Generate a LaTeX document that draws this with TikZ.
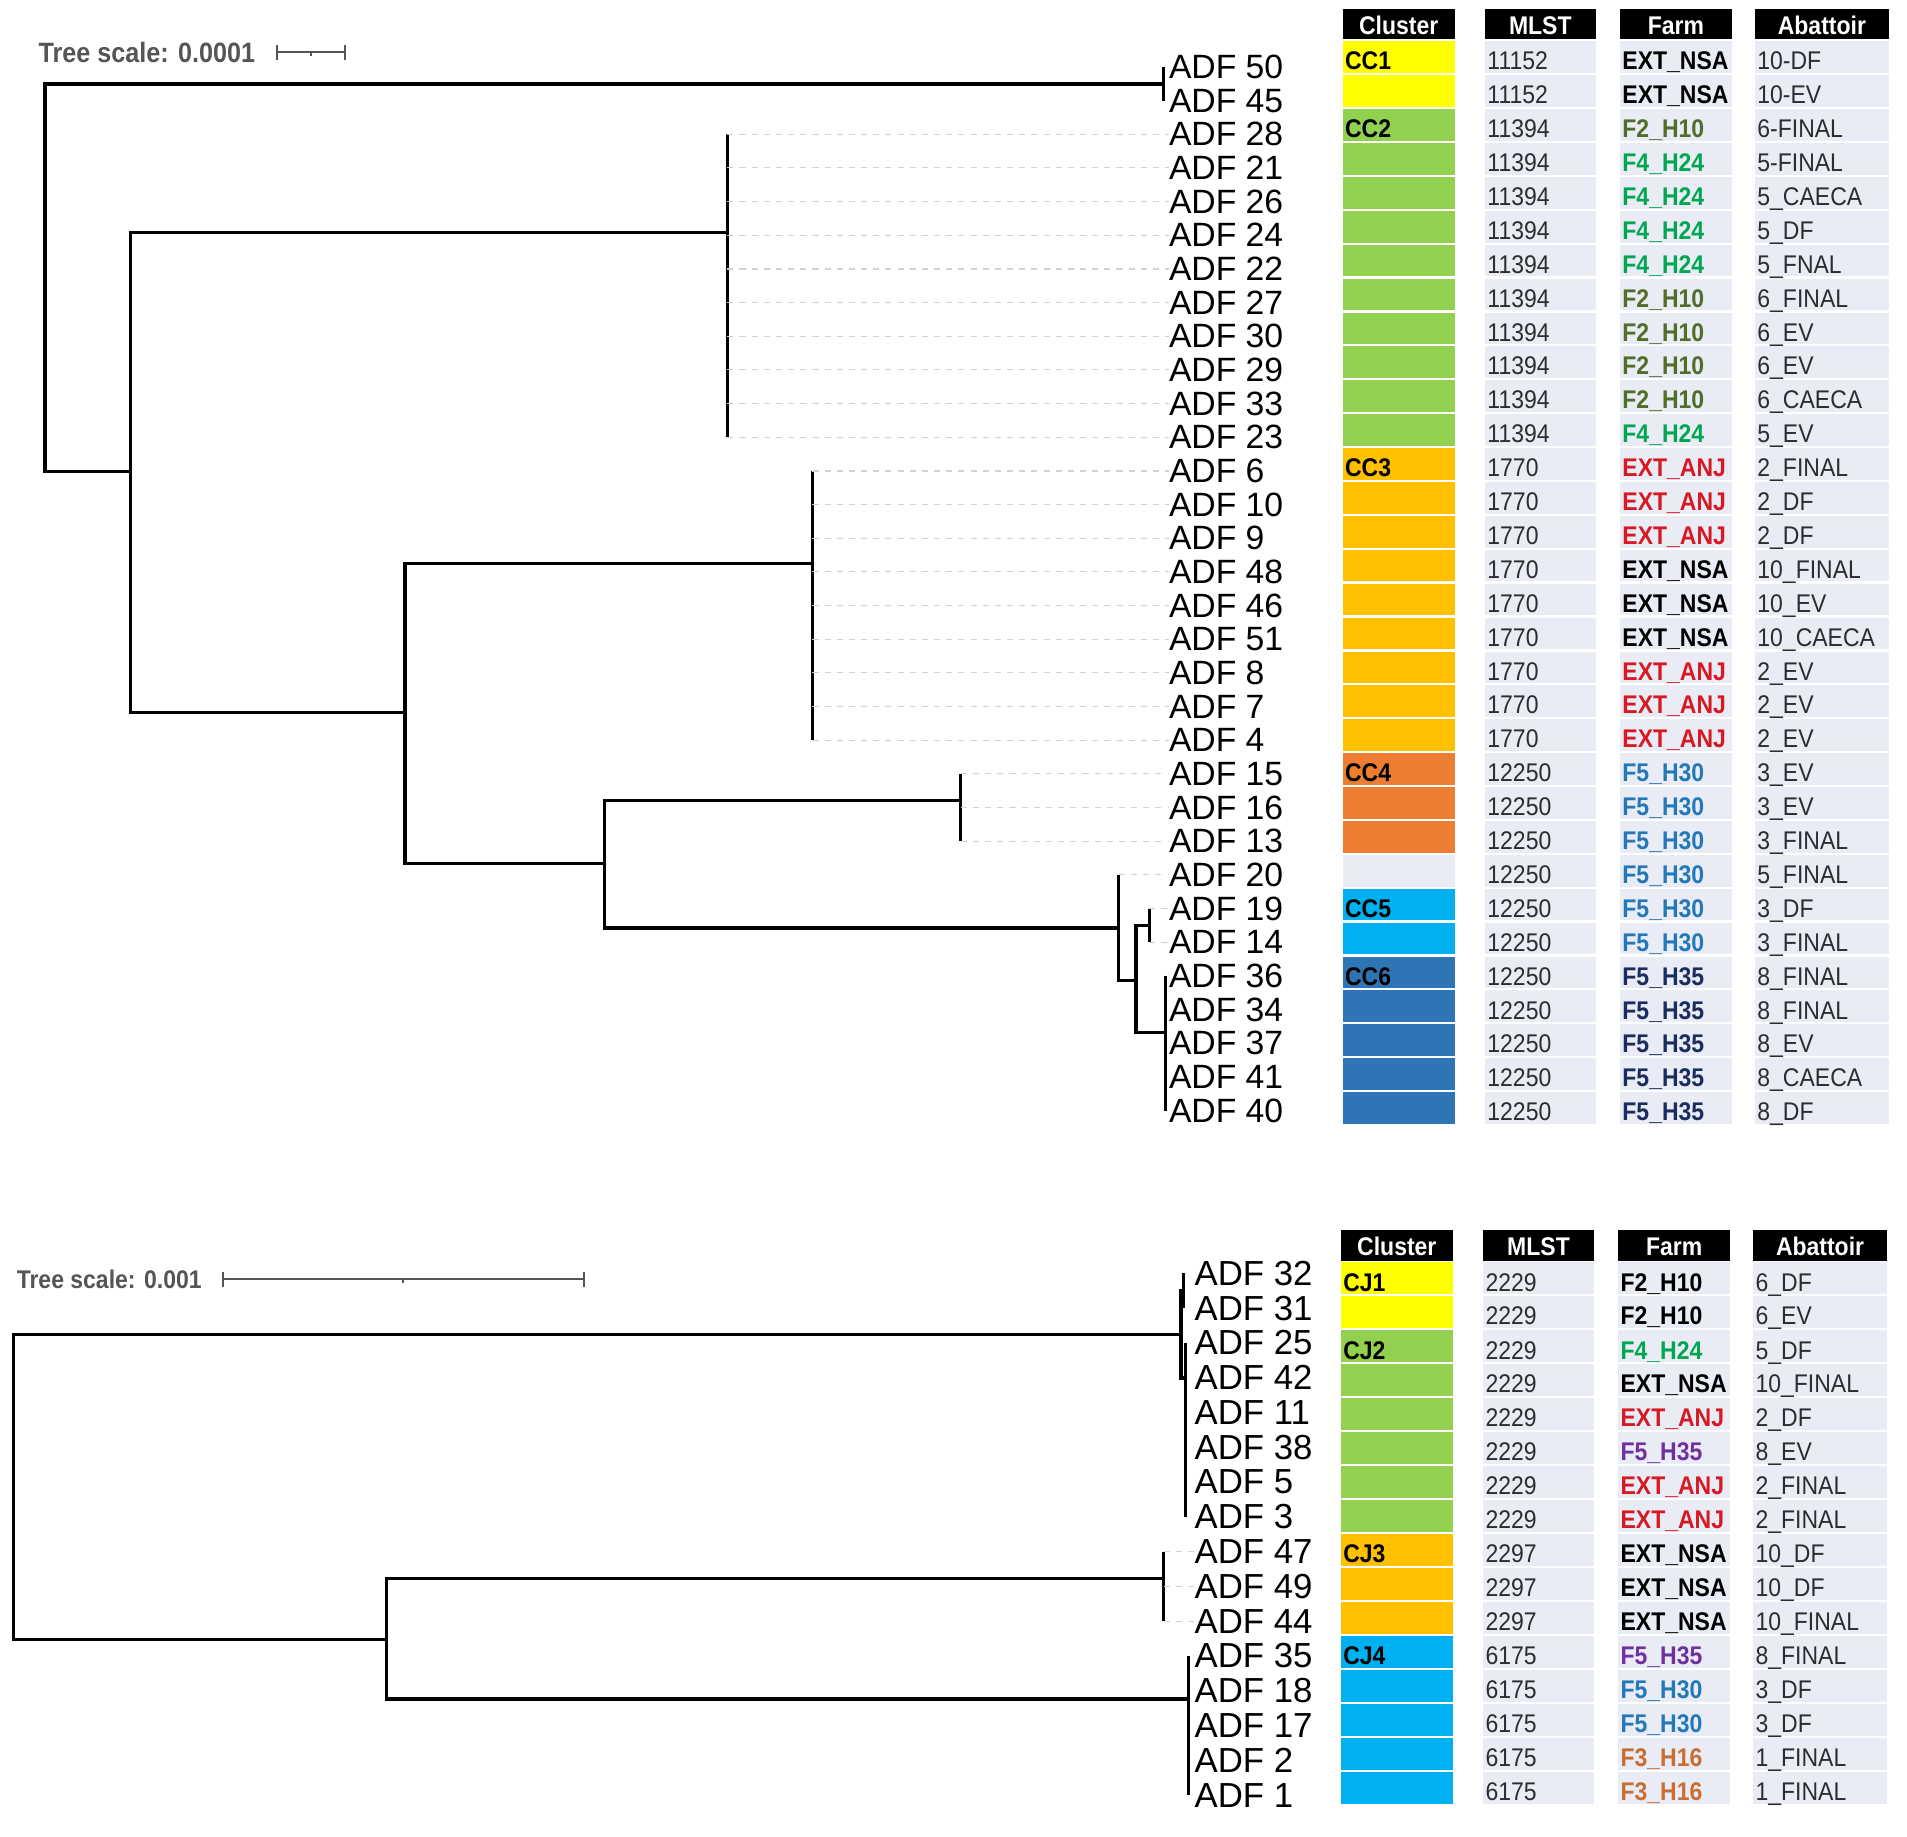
\documentclass[tikz,border=0pt]{standalone}
\usepackage{fontspec}
\setmainfont{Liberation Sans}
\newfontfamily\narrowfont[FakeStretch=0.9]{Liberation Sans}
\usepackage{tikz}
\usetikzlibrary{positioning}
\definecolor{ccyellow}{RGB}{255,255,0}
\definecolor{ccgreen}{RGB}{146,208,80}
\definecolor{ccorange}{RGB}{255,192,0}
\definecolor{ccred}{RGB}{237,125,49}
\definecolor{cclight}{RGB}{0,176,240}
\definecolor{ccblue}{RGB}{46,117,182}
\definecolor{cellbg}{RGB}{233,235,245}
\definecolor{celltext}{RGB}{45,45,45}
\definecolor{farmolive}{RGB}{80,110,40}
\definecolor{farmgreen}{RGB}{0,166,80}
\definecolor{farmred}{RGB}{215,25,35}
\definecolor{farmblue}{RGB}{35,120,185}
\definecolor{farmnavy}{RGB}{25,45,95}
\definecolor{farmpurple}{RGB}{112,48,160}
\definecolor{farmbrown}{RGB}{200,110,50}
\definecolor{scalegray}{RGB}{85,85,85}
\tikzset{%
  branch/.style={line width=2.6pt, black},% tree branches
  leader/.style={gray!35, line width=1pt, dash pattern=on 5pt off 5pt},% guide from branch to label
  leaf/.style={anchor=west, inner sep=0pt, font=\fontsize{27.7}{28}\selectfont},
  leafb/.style={leaf, font=\fontsize{28.6}{29}\selectfont},
  scalebar/.style={scalegray, line width=1.6pt},
  scaletext/.style={inner sep=0pt, text=scalegray, font=\narrowfont\bfseries\fontsize{23}{23}\selectfont},
  head/.style={fill=black, text=white, inner sep=0pt, minimum height=25pt, text height=17pt, text depth=0pt,
    font=\narrowfont\bfseries\fontsize{21}{21}\selectfont},% column titles
  cell/.style={inner sep=2pt, minimum height=26pt, align=left, text height=21pt, text depth=0pt,
    text=celltext, font=\narrowfont\fontsize{21}{21}\selectfont}% table cells
}
% one row of the table: name, y, cluster colour, cluster, MLST, farm colour, farm, abattoir
\newcommand*{\tabrow}[8]{%
  \node[cell, fill=#3, text width=88pt, text=black] (cl#1) at (1150,#2) {\bfseries #4};
  \node[cell, fill=cellbg, text width=87pt] (ml#1) at (1266.5,#2) {#5};
  \node[cell, fill=cellbg, text width=88pt, text=#6] (fa#1) at (1378,#2) {\bfseries #7};
  \node[cell, fill=cellbg, text width=106pt] (ab#1) at (1498,#2) {#8};
}

\begin{document}
\begin{tikzpicture}[x=1pt, y=-1pt]
\useasboundingbox (0,0) rectangle (1568,1510);

%%% upper tree
\coordinate (sa) at (228,43);
\coordinate (sm) at (256,43);
\coordinate (sb) at (284,43);
\node[scaletext, left=18pt of sa] (scaletop) {Tree scale: 0.0001};
\draw[scalebar] (sa) -- (sb);
\draw[scalebar] (sa) ++(0,-6) -- ++(0,12);
\draw[scalebar] (sb) ++(0,-6) -- ++(0,12);
\draw[scalebar] (sm) -- ++(0,3);

\node[leaf] (l50) at (961, 55)    {ADF 50};
\node[leaf] (l45) at (961, 82.7)  {ADF 45};
\node[leaf] (l28) at (961, 110.4) {ADF 28};
\node[leaf] (l21) at (961, 138)   {ADF 21};
\node[leaf] (l26) at (961, 165.7) {ADF 26};
\node[leaf] (l24) at (961, 193.4) {ADF 24};
\node[leaf] (l22) at (961, 221.1) {ADF 22};
\node[leaf] (l27) at (961, 248.8) {ADF 27};
\node[leaf] (l30) at (961, 276.4) {ADF 30};
\node[leaf] (l29) at (961, 304.1) {ADF 29};
\node[leaf] (l33) at (961, 331.8) {ADF 33};
\node[leaf] (l23) at (961, 359.5) {ADF 23};
\node[leaf] (l6)  at (961, 387.2) {ADF 6};
\node[leaf] (l10) at (961, 414.8) {ADF 10};
\node[leaf] (l9)  at (961, 442.5) {ADF 9};
\node[leaf] (l48) at (961, 470.2) {ADF 48};
\node[leaf] (l46) at (961, 497.9) {ADF 46};
\node[leaf] (l51) at (961, 525.6) {ADF 51};
\node[leaf] (l8)  at (961, 553.2) {ADF 8};
\node[leaf] (l7)  at (961, 580.9) {ADF 7};
\node[leaf] (l4)  at (961, 608.6) {ADF 4};
\node[leaf] (l15) at (961, 636.3) {ADF 15};
\node[leaf] (l16) at (961, 664)   {ADF 16};
\node[leaf] (l13) at (961, 691.6) {ADF 13};
\node[leaf] (l20) at (961, 719.3) {ADF 20};
\node[leaf] (l19) at (961, 747)   {ADF 19};
\node[leaf] (l14) at (961, 774.7) {ADF 14};
\node[leaf] (l36) at (961, 802.4) {ADF 36};
\node[leaf] (l34) at (961, 830)   {ADF 34};
\node[leaf] (l37) at (961, 857.7) {ADF 37};
\node[leaf] (l41) at (961, 885.4) {ADF 41};
\node[leaf] (l40) at (961, 913.1) {ADF 40};

\coordinate (root1) at (37,228);
\coordinate (cc1) at (957,69);
\coordinate (na)  at (107,388);
\coordinate (cc2) at (598,191);
\coordinate (nb)  at (333,586);
\coordinate (cc3) at (668,463);
\coordinate (nc)  at (497,710);
\coordinate (cc4) at (790,658);
\coordinate (nd)  at (920,763);
\coordinate (ne)  at (934,806);
\coordinate (nf)  at (945,761);
\coordinate (cc6) at (958,849);

\draw[branch] (root1) |- (cc1);
\draw[branch] (root1) |- (na);
\draw[branch] (na) |- (cc2);
\draw[branch] (na) |- (nb);
\draw[branch] (nb) |- (cc3);
\draw[branch] (nb) |- (nc);
\draw[branch] (nc) |- (cc4);
\draw[branch] (nc) |- (nd);
\draw[branch] (nd) |- (ne);
\draw[branch] (ne) |- (nf);
\draw[branch] (ne) |- (cc6);

\draw[branch] (cc1 |- l50) -- (cc1 |- l45);
\draw[branch] (cc2 |- l28) -- (cc2 |- l23);
\draw[branch] (cc3 |- l6) -- (cc3 |- l4);
\draw[branch] (cc4 |- l15) -- (cc4 |- l13);
\draw[branch] (nd) -- (nd |- l20);
\draw[branch] (nf |- l19) -- (nf |- l14);
\draw[branch] (cc6 |- l36) -- (cc6 |- l40);

\foreach \l in {l28,l21,l26,l24,l22,l27,l30,l29,l33,l23}
  \draw[leader] (cc2 |- \l) -- (\l.west);
\foreach \l in {l6,l10,l9,l48,l46,l51,l8,l7,l4}
  \draw[leader] (cc3 |- \l) -- (\l.west);
\foreach \l in {l15,l16,l13}
  \draw[leader] (cc4 |- \l) -- (\l.west);
\draw[leader] (nd |- l20) -- (l20.west);
\foreach \l in {l19,l14}
  \draw[leader] (nf |- \l) -- (\l.west);

%%% upper table
\node[head, minimum width=92pt]  (hcl1) at (1150,19.5)   {Cluster};
\node[head, minimum width=91pt]  (hml1) at (1266.5,19.5) {MLST};
\node[head, minimum width=92pt]  (hfa1) at (1378,19.5)   {Farm};
\node[head, minimum width=110pt] (hab1) at (1498,19.5)   {Abattoir};

\tabrow{50}{47}{ccyellow}{CC1}{11152}{black}{EXT\_NSA}{10-DF}
\tabrow{45}{74.9}{ccyellow}{}{11152}{black}{EXT\_NSA}{10-EV}
\tabrow{28}{102.7}{ccgreen}{CC2}{11394}{farmolive}{F2\_H10}{6-FINAL}
\tabrow{21}{130.6}{ccgreen}{}{11394}{farmgreen}{F4\_H24}{5-FINAL}
\tabrow{26}{158.5}{ccgreen}{}{11394}{farmgreen}{F4\_H24}{5\_CAECA}
\tabrow{24}{186.4}{ccgreen}{}{11394}{farmgreen}{F4\_H24}{5\_DF}
\tabrow{22}{214.2}{ccgreen}{}{11394}{farmgreen}{F4\_H24}{5\_FNAL}
\tabrow{27}{242.1}{ccgreen}{}{11394}{farmolive}{F2\_H10}{6\_FINAL}
\tabrow{30}{270}{ccgreen}{}{11394}{farmolive}{F2\_H10}{6\_EV}
\tabrow{29}{297.8}{ccgreen}{}{11394}{farmolive}{F2\_H10}{6\_EV}
\tabrow{33}{325.7}{ccgreen}{}{11394}{farmolive}{F2\_H10}{6\_CAECA}
\tabrow{23}{353.6}{ccgreen}{}{11394}{farmgreen}{F4\_H24}{5\_EV}
\tabrow{6}{381.4}{ccorange}{CC3}{1770}{farmred}{EXT\_ANJ}{2\_FINAL}
\tabrow{10}{409.3}{ccorange}{}{1770}{farmred}{EXT\_ANJ}{2\_DF}
\tabrow{9}{437.2}{ccorange}{}{1770}{farmred}{EXT\_ANJ}{2\_DF}
\tabrow{48}{465.1}{ccorange}{}{1770}{black}{EXT\_NSA}{10\_FINAL}
\tabrow{46}{492.9}{ccorange}{}{1770}{black}{EXT\_NSA}{10\_EV}
\tabrow{51}{520.8}{ccorange}{}{1770}{black}{EXT\_NSA}{10\_CAECA}
\tabrow{8}{548.7}{ccorange}{}{1770}{farmred}{EXT\_ANJ}{2\_EV}
\tabrow{7}{576.5}{ccorange}{}{1770}{farmred}{EXT\_ANJ}{2\_EV}
\tabrow{4}{604.4}{ccorange}{}{1770}{farmred}{EXT\_ANJ}{2\_EV}
\tabrow{15}{632.3}{ccred}{CC4}{12250}{farmblue}{F5\_H30}{3\_EV}
\tabrow{16}{660.1}{ccred}{}{12250}{farmblue}{F5\_H30}{3\_EV}
\tabrow{13}{688}{ccred}{}{12250}{farmblue}{F5\_H30}{3\_FINAL}
\tabrow{20}{715.9}{cellbg}{}{12250}{farmblue}{F5\_H30}{5\_FINAL}
\tabrow{19}{743.8}{cclight}{CC5}{12250}{farmblue}{F5\_H30}{3\_DF}
\tabrow{14}{771.6}{cclight}{}{12250}{farmblue}{F5\_H30}{3\_FINAL}
\tabrow{36}{799.5}{ccblue}{CC6}{12250}{farmnavy}{F5\_H35}{8\_FINAL}
\tabrow{34}{827.4}{ccblue}{}{12250}{farmnavy}{F5\_H35}{8\_FINAL}
\tabrow{37}{855.2}{ccblue}{}{12250}{farmnavy}{F5\_H35}{8\_EV}
\tabrow{41}{883.1}{ccblue}{}{12250}{farmnavy}{F5\_H35}{8\_CAECA}
\tabrow{40}{911}{ccblue}{}{12250}{farmnavy}{F5\_H35}{8\_DF}

%%% lower tree
\coordinate (sc) at (183,1052);
\coordinate (sn) at (331.5,1052);
\coordinate (sd) at (480,1052);
\node[scaletext, font=\narrowfont\bfseries\fontsize{21}{21}\selectfont, left=17pt of sc] (scalebot) {Tree scale: 0.001};
\draw[scalebar] (sc) -- (sd);
\draw[scalebar] (sc) ++(0,-6) -- ++(0,12);
\draw[scalebar] (sd) ++(0,-6) -- ++(0,12);
\draw[scalebar] (sn) -- ++(0,3);

\node[leafb] (l32) at (982, 1047)   {ADF 32};
\node[leafb] (l31) at (982, 1075.6) {ADF 31};
\node[leafb] (l25) at (982, 1104.2) {ADF 25};
\node[leafb] (l42) at (982, 1132.8) {ADF 42};
\node[leafb] (l11) at (982, 1161.4) {ADF 11};
\node[leafb] (l38) at (982, 1190)   {ADF 38};
\node[leafb] (l5)  at (982, 1218.6) {ADF 5};
\node[leafb] (l3)  at (982, 1247.2) {ADF 3};
\node[leafb] (l47) at (982, 1275.8) {ADF 47};
\node[leafb] (l49) at (982, 1304.4) {ADF 49};
\node[leafb] (l44) at (982, 1333)   {ADF 44};
\node[leafb] (l35) at (982, 1361.6) {ADF 35};
\node[leafb] (l18) at (982, 1390.2) {ADF 18};
\node[leafb] (l17) at (982, 1418.8) {ADF 17};
\node[leafb] (l2)  at (982, 1447.4) {ADF 2};
\node[leafb] (l1)  at (982, 1476)   {ADF 1};

\coordinate (root2) at (11,1220);
\coordinate (nh)  at (971,1097);
\coordinate (cj1) at (973,1061);
\coordinate (cj2) at (975,1133);
\coordinate (ni)  at (318,1348);
\coordinate (cj3) at (957,1298);
\coordinate (cj4) at (977,1397);

\draw[branch] (root2) |- (nh);
\draw[branch] (root2) |- (ni);
\draw[branch] (nh) |- (cj1);
\draw[branch] (nh) |- (cj2);
\draw[branch] (ni) |- (cj3);
\draw[branch] (ni) |- (cj4);

\draw[branch] (cj1 |- l32) -- (cj1 |- l31);
\draw[branch] (cj2 |- l25) -- (cj2 |- l3);
\draw[branch] (cj3 |- l47) -- (cj3 |- l44);
\draw[branch] (cj4 |- l35) -- (cj4 |- l1);

\foreach \l in {l47,l49,l44}
  \draw[leader] (cj3 |- \l) -- (\l.west);

%%% lower table
\begin{scope}[xshift=-1.5pt]
\node[head, minimum width=92pt]  (hcl2) at (1150,1024)   {Cluster};
\node[head, minimum width=91pt]  (hml2) at (1266.5,1024) {MLST};
\node[head, minimum width=92pt]  (hfa2) at (1378,1024)   {Farm};
\node[head, minimum width=110pt] (hab2) at (1498,1024)   {Abattoir};

\tabrow{32}{1051}{ccyellow}{CJ1}{2229}{black}{F2\_H10}{6\_DF}
\tabrow{31}{1078.9}{ccyellow}{}{2229}{black}{F2\_H10}{6\_EV}
\tabrow{25}{1106.9}{ccgreen}{CJ2}{2229}{farmgreen}{F4\_H24}{5\_DF}
\tabrow{42}{1134.8}{ccgreen}{}{2229}{black}{EXT\_NSA}{10\_FINAL}
\tabrow{11}{1162.8}{ccgreen}{}{2229}{farmred}{EXT\_ANJ}{2\_DF}
\tabrow{38}{1190.7}{ccgreen}{}{2229}{farmpurple}{F5\_H35}{8\_EV}
\tabrow{5}{1218.6}{ccgreen}{}{2229}{farmred}{EXT\_ANJ}{2\_FINAL}
\tabrow{3}{1246.6}{ccgreen}{}{2229}{farmred}{EXT\_ANJ}{2\_FINAL}
\tabrow{47}{1274.5}{ccorange}{CJ3}{2297}{black}{EXT\_NSA}{10\_DF}
\tabrow{49}{1302.5}{ccorange}{}{2297}{black}{EXT\_NSA}{10\_DF}
\tabrow{44}{1330.4}{ccorange}{}{2297}{black}{EXT\_NSA}{10\_FINAL}
\tabrow{35}{1358.3}{cclight}{CJ4}{6175}{farmpurple}{F5\_H35}{8\_FINAL}
\tabrow{18}{1386.3}{cclight}{}{6175}{farmblue}{F5\_H30}{3\_DF}
\tabrow{17}{1414.2}{cclight}{}{6175}{farmblue}{F5\_H30}{3\_DF}
\tabrow{2}{1442.2}{cclight}{}{6175}{farmbrown}{F3\_H16}{1\_FINAL}
\tabrow{1}{1470.1}{cclight}{}{6175}{farmbrown}{F3\_H16}{1\_FINAL}
\end{scope}

\end{tikzpicture}
\end{document}
